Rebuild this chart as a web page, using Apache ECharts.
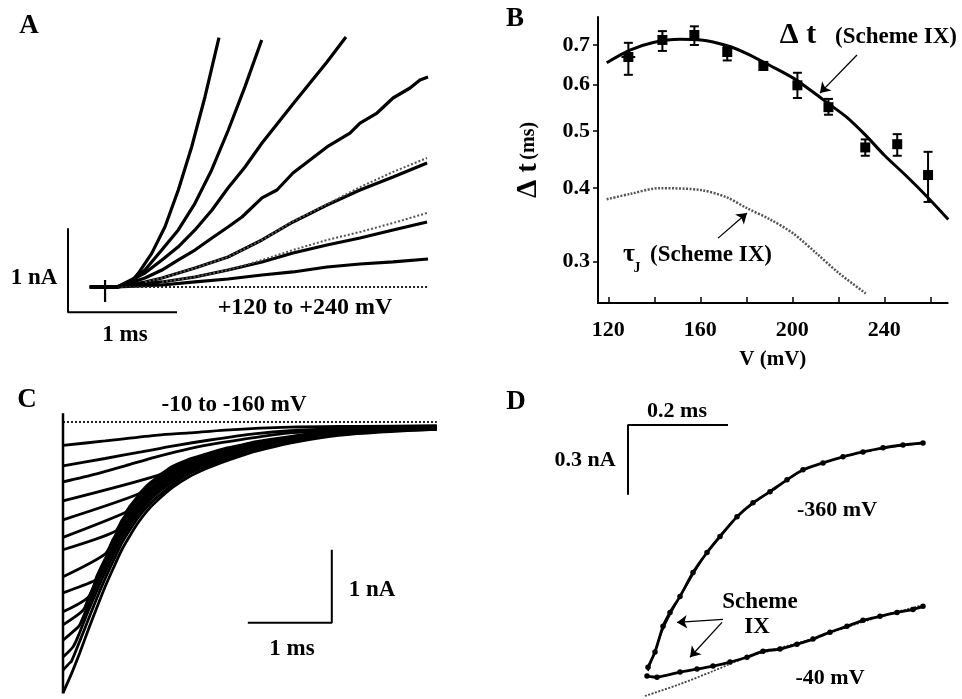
<!DOCTYPE html>
<html><head><meta charset="utf-8">
<script src="https://cdn.jsdelivr.net/npm/echarts@6/dist/echarts.min.js"></script>
<style>html,body{margin:0;padding:0;background:#fff}#c{width:962px;height:699px}</style>
</head><body><div id="c"></div>
<script>
// ---------------- Panel A: outward currents, +120 to +240 mV (t in ms, I in nA) ----------------
const aTrace1 = [[0.2,0],[0.45,0],[0.553,0.024],[0.645,0.163],[0.768,0.40],[0.89,0.718],[1.012,1.155],[1.135,1.67],[1.257,2.265],[1.385,2.97]];
const aTrace2 = [[0.2,0],[0.45,0],[0.584,0.063],[0.706,0.202],[0.86,0.44],[1.012,0.679],[1.165,0.996],[1.318,1.393],[1.471,1.869],[1.624,2.385],[1.777,2.94]];
const aTrace3 = [[0.2,0],[0.45,0],[0.706,0.167],[0.862,0.321],[1.009,0.476],[1.165,0.679],[1.321,0.917],[1.468,1.179],[1.624,1.429],[1.78,1.714],[2.064,2.179],[2.22,2.429],[2.376,2.679],[2.55,2.976]];
const aTrace4 = [[0.2,0],[0.45,0],[0.706,0.107],[0.862,0.202],[1.009,0.321],[1.165,0.44],[1.321,0.583],[1.468,0.714],[1.596,0.833],[1.78,1.06],[1.917,1.155],[2.064,1.357],[2.22,1.512],[2.376,1.667],[2.587,1.833],[2.679,1.952],[2.835,2.071],[2.982,2.25],[3.138,2.369],[3.229,2.464],[3.303,2.5]];
const aTrace5 = [[0.2,0],[0.45,0],[0.706,0.06],[0.862,0.107],[1.165,0.226],[1.468,0.357],[1.78,0.56],[2.064,0.774],[2.376,0.976],[2.679,1.155],[2.982,1.31],[3.294,1.476]];
const aTrace6 = [[0.2,0],[0.45,0],[0.862,0.06],[1.165,0.119],[1.468,0.202],[1.78,0.298],[2.064,0.405],[2.376,0.5],[2.679,0.583],[2.982,0.679],[3.294,0.774]];
const aTrace7 = [[0.2,0],[0.45,0],[0.862,0.024],[1.165,0.06],[1.468,0.095],[1.78,0.143],[2.064,0.179],[2.376,0.238],[2.679,0.274],[2.982,0.298],[3.303,0.333]];
const aFit5 = [[0.706,0.06],[0.862,0.107],[1.165,0.226],[1.468,0.357],[1.78,0.56],[2.064,0.78],[2.376,0.985],[2.679,1.19],[2.982,1.37],[3.294,1.536]];
const aFit6 = [[0.862,0.06],[1.165,0.119],[1.468,0.202],[1.78,0.321],[2.064,0.44],[2.376,0.56],[2.679,0.655],[2.982,0.762],[3.294,0.881]];
const aBaseline = [[0.45,0],[3.3,0]];
const aArtifactH = [[0.22,0],[0.46,0]];
const aArtifactV = [[0.34,0.083],[0.34,-0.18]];
const aScaleBar = [[0,0.7],[0,-0.3],[1,-0.3]];

// ---------------- Panel B: delay vs voltage (log axis) ----------------
const bVoltage = [128.7,143.5,157.4,171.7,187.4,202.2,215.7,231.7,245.6,259.0];
const bDelta   = [0.668,0.714,0.728,0.681,0.645,0.598,0.549,0.469,0.475,0.421];
const bErrLow  = [0.623,0.684,0.700,0.659,0.635,0.569,0.533,0.454,0.454,0.379];
const bErrHigh = [0.706,0.739,0.753,0.695,0.655,0.628,0.567,0.484,0.494,0.461];
const bErrV    = [3,0,0,0,0,0,0,0,0,0];
const bFitV     = [119.3,129.4,139.5,151.2,160.3,171.7,180.2,190.3,200.4,209.1,215.6,223.6,231.6,240.0,249.7,259.1,267.8];
const bFitDelta = [0.653,0.686,0.707,0.716,0.714,0.698,0.677,0.646,0.615,0.582,0.557,0.528,0.493,0.455,0.419,0.385,0.354];
const bTauV = [119.3,129.4,142.4,160.3,171.4,180.2,190.3,200.4,210.5,220.2,231.9];
const bTau  = [0.383,0.391,0.400,0.397,0.386,0.370,0.354,0.335,0.310,0.287,0.265];
const bXTicks = [120,140,160,180,200,220,240,260];
const bXLabels = [120,160,200,240];
const bYTicks = [0.3,0.4,0.5,0.6,0.7];
const bArrowDelta = [[228.1,0.673],[212.0,0.580]];
const bArrowTau = [[167.7,0.329],[180.3,0.363]];

// ---------------- Panel C: tail currents, -10 to -160 mV ----------------
const cTrace1 = [[0,-0.32],[0.5,-0.26],[1.13,-0.18],[1.5,-0.15],[1.93,-0.11],[2.7,-0.07],[3.5,-0.06],[4.45,-0.05]];
const cTrace2 = [[0,-0.60],[0.5,-0.50],[0.93,-0.41],[1.3,-0.33],[1.73,-0.25],[2.3,-0.16],[2.7,-0.12],[3.5,-0.08],[4.45,-0.06]];
const cTrace3 = [[0,-0.82],[0.4,-0.71],[0.74,-0.60],[1.1,-0.48],[1.52,-0.36],[1.9,-0.28],[2.3,-0.21],[2.7,-0.15],[3.1,-0.12],[3.5,-0.09],[4.45,-0.07]];
const cTrace4 = [[0,-1.08],[1.13,-0.73],[1.3,-0.61],[1.5,-0.51],[1.7,-0.44],[1.9,-0.37],[2.1,-0.32],[2.3,-0.27],[2.7,-0.20],[3.1,-0.14],[3.5,-0.11],[3.9,-0.09],[4.45,-0.07]];
const cTrace5 = [[0,-1.34],[0.89,-0.99],[1.0,-0.87],[1.1,-0.78],[1.3,-0.64],[1.5,-0.53],[1.7,-0.45],[1.9,-0.39],[2.1,-0.33],[2.3,-0.28],[2.7,-0.21],[3.1,-0.15],[3.5,-0.11],[3.9,-0.09],[4.45,-0.07]];
const cTrace6 = [[0,-1.58],[0.74,-1.24],[0.8,-1.15],[0.9,-1.01],[1.0,-0.90],[1.1,-0.81],[1.3,-0.67],[1.5,-0.56],[1.7,-0.47],[1.9,-0.41],[2.1,-0.35],[2.3,-0.30],[2.7,-0.21],[3.1,-0.16],[3.5,-0.12],[3.9,-0.10],[4.45,-0.07]];
const cTrace7 = [[0,-1.75],[0.62,-1.50],[0.7,-1.35],[0.8,-1.19],[0.9,-1.05],[1.0,-0.94],[1.1,-0.85],[1.3,-0.69],[1.5,-0.58],[1.7,-0.49],[1.9,-0.42],[2.1,-0.36],[2.3,-0.31],[2.7,-0.22],[3.1,-0.16],[3.5,-0.12],[3.9,-0.10],[4.45,-0.08]];
const cTrace8 = [[0,-2.12],[0.5,-1.81],[0.6,-1.60],[0.7,-1.40],[0.8,-1.24],[0.9,-1.10],[1.0,-0.98],[1.1,-0.88],[1.3,-0.72],[1.5,-0.60],[1.7,-0.51],[1.9,-0.44],[2.1,-0.38],[2.3,-0.32],[2.7,-0.23],[3.1,-0.17],[3.5,-0.13],[3.9,-0.10],[4.45,-0.08]];
const cTrace9 = [[0,-2.34],[0.38,-2.17],[0.4,-2.12],[0.5,-1.88],[0.6,-1.66],[0.7,-1.45],[0.8,-1.29],[0.9,-1.14],[1.0,-1.01],[1.1,-0.91],[1.3,-0.75],[1.5,-0.62],[1.7,-0.53],[1.9,-0.46],[2.1,-0.39],[2.3,-0.33],[2.7,-0.24],[3.1,-0.17],[3.5,-0.13],[3.9,-0.11],[4.45,-0.08]];
const cTrace10 = [[0,-2.60],[0.3,-2.40],[0.4,-2.14],[0.5,-1.90],[0.6,-1.68],[0.7,-1.47],[0.8,-1.30],[0.9,-1.15],[1.0,-1.02],[1.1,-0.92],[1.3,-0.76],[1.5,-0.63],[1.7,-0.54],[1.9,-0.46],[2.1,-0.39],[2.3,-0.34],[2.7,-0.24],[3.1,-0.18],[3.5,-0.13],[3.9,-0.11],[4.45,-0.08]];
const cTrace11 = [[0,-2.78],[0.24,-2.58],[0.3,-2.42],[0.4,-2.17],[0.5,-1.92],[0.6,-1.70],[0.7,-1.49],[0.8,-1.32],[0.9,-1.16],[1.0,-1.04],[1.1,-0.94],[1.3,-0.77],[1.5,-0.64],[1.7,-0.54],[1.9,-0.47],[2.1,-0.40],[2.3,-0.34],[2.7,-0.25],[3.1,-0.18],[3.5,-0.14],[3.9,-0.11],[4.45,-0.09]];
const cTrace12 = [[0,-2.99],[0.18,-2.81],[0.2,-2.78],[0.3,-2.51],[0.4,-2.24],[0.5,-1.99],[0.6,-1.76],[0.7,-1.54],[0.8,-1.36],[0.9,-1.21],[1.0,-1.07],[1.1,-0.97],[1.3,-0.79],[1.5,-0.66],[1.7,-0.56],[1.9,-0.48],[2.1,-0.41],[2.3,-0.35],[2.7,-0.26],[3.1,-0.18],[3.5,-0.14],[3.9,-0.11],[4.45,-0.09]];
const cTrace13 = [[0,-3.22],[0.12,-3.08],[0.2,-2.88],[0.3,-2.59],[0.4,-2.32],[0.5,-2.06],[0.6,-1.82],[0.7,-1.59],[0.8,-1.41],[0.9,-1.25],[1.0,-1.11],[1.1,-1.00],[1.3,-0.82],[1.5,-0.68],[1.7,-0.58],[1.9,-0.50],[2.1,-0.43],[2.3,-0.36],[2.7,-0.26],[3.1,-0.19],[3.5,-0.15],[3.9,-0.12],[4.45,-0.09]];
const cTrace14 = [[0,-3.40],[0.08,-3.30],[0.1,-3.28],[0.2,-3.00],[0.3,-2.71],[0.4,-2.42],[0.5,-2.15],[0.6,-1.90],[0.7,-1.66],[0.8,-1.47],[0.9,-1.30],[1.0,-1.16],[1.1,-1.05],[1.3,-0.86],[1.5,-0.71],[1.7,-0.61],[1.9,-0.52],[2.1,-0.45],[2.3,-0.38],[2.7,-0.28],[3.1,-0.20],[3.5,-0.15],[3.9,-0.12],[4.45,-0.10]];
const cTrace15 = [[0,-3.71],[0.1,-3.45],[0.2,-3.16],[0.3,-2.85],[0.4,-2.55],[0.5,-2.26],[0.6,-2.00],[0.7,-1.75],[0.8,-1.55],[0.9,-1.37],[1.0,-1.22],[1.1,-1.10],[1.3,-0.90],[1.5,-0.75],[1.7,-0.64],[1.9,-0.55],[2.1,-0.47],[2.3,-0.40],[2.7,-0.29],[3.1,-0.21],[3.5,-0.16],[3.9,-0.13],[4.45,-0.10]];
const cBaseline = [[0,0],[4.45,0]];
const cStep = [[0,0.12],[0,-3.72]];
const cScaleBar = [[3.2,-1.75],[3.2,-2.75],[2.2,-2.75]];

// ---------------- Panel D: -360 and -40 mV with Scheme IX fits ----------------
const d360 = [[0.04,0.137],[0.054,0.202],[0.07,0.313],[0.084,0.373],[0.104,0.442],[0.13,0.545],[0.158,0.631],[0.184,0.700],[0.218,0.785],[0.25,0.845],[0.284,0.893],[0.318,0.944],[0.35,0.987],[0.39,1.017],[0.43,1.043],[0.47,1.064],[0.51,1.082],[0.55,1.094],[0.59,1.103]];
const d360Fit = [[0.04,0.12],[0.07,0.30],[0.104,0.44],[0.158,0.63],[0.218,0.785],[0.284,0.893],[0.35,0.985],[0.43,1.043],[0.51,1.08],[0.59,1.10]];
const d40 = [[0.038,0.099],[0.058,0.094],[0.104,0.116],[0.138,0.129],[0.17,0.142],[0.204,0.159],[0.238,0.180],[0.27,0.206],[0.304,0.215],[0.338,0.236],[0.37,0.258],[0.404,0.288],[0.438,0.313],[0.47,0.339],[0.504,0.356],[0.538,0.373],[0.57,0.386],[0.59,0.399]];
const d40Fit = [[0.034,0.013],[0.104,0.064],[0.17,0.12],[0.238,0.18],[0.304,0.22],[0.37,0.26],[0.438,0.31],[0.504,0.355],[0.59,0.405]];
const dScaleBar = [[0.2,1.18],[0,1.18],[0,0.88]];
const dArrow1 = [[0.19,0.343],[0.098,0.330]];
const dArrow2 = [[0.188,0.330],[0.124,0.180]];

// ---------------- build ----------------
const FONT = '"Liberation Serif", "Times New Roman", serif';
const chart = echarts.init(document.getElementById('c'), null, {renderer:'canvas'});

function ln(data, g, opts) {
  return Object.assign({type:'line', xAxisIndex:g, yAxisIndex:g, data:data, showSymbol:false, symbol:'none',
    clip:false, silent:true, animation:false, lineStyle:{color:'#000', width:3}}, opts || {});
}
function arrow(pts, g) {
  return {type:'line', xAxisIndex:g, yAxisIndex:g, data:[], silent:true, animation:false, symbol:'none',
    markLine:{silent:true, animation:false, symbol:['none','arrow'], symbolSize:10, label:{show:false},
      itemStyle:{color:'#000'},
      lineStyle:{color:'#000', width:1.3, type:'solid'},
      emphasis:{disabled:true},
      data:[[{coord:pts[0], symbol:'none'},{coord:pts[1], symbol:'arrow', symbolSize:10}]]}};
}
function txt(t, x, y, size, extra) {
  return {type:'text', x:x, y:y, silent:true, style:Object.assign({text:t, fill:'#000',
    font:'bold ' + size + 'px ' + FONT, textAlign:'center', textVerticalAlign:'middle', verticalAlign:'middle'}, extra || {})};
}
const hidden = (g, min, max) => ({type:'value', gridIndex:g, min:min, max:max, show:false});
const dotted = {color:'#555', width:2, type:[2,2]};

const series = [];
// A
[aTrace1,aTrace2,aTrace3,aTrace4,aTrace5,aTrace6,aTrace7].forEach(d => series.push(ln(d,0,{lineStyle:{color:'#000',width:3.2}})));
series.push(ln(aFit5,0,{lineStyle:dotted}));
series.push(ln(aFit6,0,{lineStyle:dotted}));
series.push(ln(aBaseline,0,{lineStyle:{color:'#222',width:2,type:[2,2]}}));
series.push(ln(aArtifactH,0,{lineStyle:{color:'#000',width:3.5}}));
series.push(ln(aArtifactV,0,{lineStyle:{color:'#000',width:2.2}}));
series.push(ln(aScaleBar,0,{lineStyle:{color:'#000',width:2}}));
// B
series.push(ln(bFitV.map((v,i)=>[v,bFitDelta[i]]),1,{smooth:0.3, lineStyle:{color:'#000',width:3}}));
series.push(ln(bTauV.map((v,i)=>[v,bTau[i]]),1,{smooth:0.3, lineStyle:{color:'#555',width:2.5,type:[2,1.5]}}));
series.push({type:'custom', xAxisIndex:1, yAxisIndex:1, silent:true, animation:false,
  data: bVoltage.map((v,i)=>[v,bErrLow[i],bErrHigh[i],bErrV[i],bDelta[i]]),
  encode:{x:0, y:[1,2]},
  renderItem:(params, api) => {
    const x = api.value(0), lo = api.value(1), hi = api.value(2), xe = api.value(3), m = api.value(4);
    const pL = api.coord([x,lo]), pH = api.coord([x,hi]);
    const st = {stroke:'#000', lineWidth:2};
    const cap = 4.5;
    const ch = [
      {type:'line', shape:{x1:pL[0],y1:pL[1],x2:pH[0],y2:pH[1]}, style:st},
      {type:'line', shape:{x1:pL[0]-cap,y1:pL[1],x2:pL[0]+cap,y2:pL[1]}, style:st},
      {type:'line', shape:{x1:pH[0]-cap,y1:pH[1],x2:pH[0]+cap,y2:pH[1]}, style:st}
    ];
    if (xe > 0) {
      const a = api.coord([x-xe,m]), b = api.coord([x+xe,m]);
      ch.push({type:'line', shape:{x1:a[0],y1:a[1],x2:b[0],y2:b[1]}, style:st});
    }
    return {type:'group', children:ch};
  }});
series.push({type:'scatter', xAxisIndex:1, yAxisIndex:1, silent:true, animation:false,
  data: bVoltage.map((v,i)=>[v,bDelta[i]]), symbol:'rect', symbolSize:10, itemStyle:{color:'#000', opacity:1}});
series.push(arrow(bArrowDelta,1));
series.push(arrow(bArrowTau,1));
// C
[cTrace1,cTrace2,cTrace3,cTrace4,cTrace5,cTrace6,cTrace7,cTrace8,cTrace9,cTrace10,cTrace11,cTrace12,cTrace13,cTrace14,cTrace15]
  .forEach(d => series.push(ln(d,2,{smooth:0.25, lineStyle:{color:'#000',width:2.8}})));
series.push(ln(cBaseline,2,{lineStyle:{color:'#222',width:2,type:[2,2]}}));
series.push(ln(cStep,2,{lineStyle:{color:'#000',width:2.5}}));
series.push(ln(cScaleBar,2,{lineStyle:{color:'#000',width:2}}));
// D
series.push(ln(d360Fit,3,{smooth:0.3, lineStyle:{color:'#000',width:1.5}}));
series.push(ln(d40Fit,3,{smooth:0.3, lineStyle:{color:'#444',width:1.8,type:[2,1.5]}}));
series.push(ln(d360,3,{showSymbol:true, symbol:'circle', symbolSize:5.5, itemStyle:{color:'#000'}, smooth:0.2, lineStyle:{color:'#000',width:2.8}}));
series.push(ln(d40,3,{showSymbol:true, symbol:'circle', symbolSize:5.5, itemStyle:{color:'#000'}, smooth:0.2, lineStyle:{color:'#000',width:2.8}}));
series.push(ln(dScaleBar,3,{lineStyle:{color:'#000',width:2}}));
series.push(arrow(dArrow1,3));
series.push(arrow(dArrow2,3));

const option = {
  backgroundColor:'#fff',
  animation:false,
  grid:[
    {left:68, top:35, width:359.7, height:277.2},
    {left:598, top:17, width:349.6, height:286},
    {left:63, top:411.05, width:373.8, height:284.7},
    {left:628, top:420.4, width:302, height:279.6}
  ],
  xAxis:[
    hidden(0,0,3.3),
    {type:'value', gridIndex:1, min:115.5, max:267.5,
      axisLine:{show:true, lineStyle:{color:'#000', width:2}},
      axisTick:{show:true, inside:true, length:6, customValues:bXTicks, lineStyle:{color:'#000', width:1.5}},
      axisLabel:{customValues:bXLabels, color:'#000', fontFamily:FONT, fontWeight:'bold', fontSize:22, margin:16},
      splitLine:{show:false},
      name:'V (mV)', nameLocation:'middle', nameGap:46,
      nameTextStyle:{color:'#000', fontFamily:FONT, fontWeight:'bold', fontSize:21}},
    hidden(2,0,4.45),
    hidden(3,0,0.604)
  ],
  yAxis:[
    hidden(0,-0.3,3.0),
    {type:'log', logBase:10, gridIndex:1, min:0.2553, max:0.781,
      axisLine:{show:true, lineStyle:{color:'#000', width:2}},
      axisTick:{show:true, length:5, customValues:bYTicks, lineStyle:{color:'#000', width:1.5}},
      axisLabel:{customValues:bYTicks, color:'#000', fontFamily:FONT, fontWeight:'bold', fontSize:22, margin:8,
        formatter:(v)=>Number(v).toFixed(1)},
      splitLine:{show:false}, minorTick:{show:false},
      name:'{d|\u0394 t} {m|(ms)}', nameLocation:'middle', nameRotate:90, nameGap:55,
      nameTextStyle:{color:'#000', rich:{d:{fontFamily:FONT, fontWeight:'bold', fontSize:29, color:'#000'},
                                          m:{fontFamily:FONT, fontWeight:'bold', fontSize:20, color:'#000'}}}},
    hidden(2,-3.75,0.15),
    hidden(3,0,1.2)
  ],
  series: series,
  graphic: [
    txt('A', 29, 26, 27), txt('B', 515, 19, 27), txt('C', 27, 400, 27), txt('D', 516, 402, 27),
    txt('1 nA', 34, 278, 23), txt('1 ms', 125, 335, 23), txt('+120 to +240 mV', 305, 308, 24),
    txt('\u0394 t', 798, 35, 30), txt('(Scheme IX)', 896, 37, 23),
    txt('\u03C4', 629, 254, 26), txt('J', 637, 268, 14), txt('(Scheme IX)', 711, 255, 23),
    txt('-10 to -160 mV', 234, 405, 23), txt('1 nA', 372, 590, 23), txt('1 ms', 292, 649, 23),
    txt('0.2 ms', 677, 411, 22), txt('0.3 nA', 585, 460, 22), txt('-360 mV', 837, 510, 22),
    txt('-40 mV', 830, 678, 22), txt('Scheme', 760, 602, 23), txt('IX', 757, 627, 23)
  ]
};
chart.setOption(option);
</script>
</body></html>
